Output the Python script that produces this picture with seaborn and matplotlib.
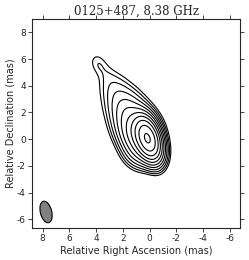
import numpy as np
import seaborn as sns
import matplotlib
matplotlib.use("Agg")
import matplotlib.pyplot as plt
from matplotlib.patches import Ellipse

# source model: gaussian components (RA mas, Dec mas, flux rel., major FWHM, minor FWHM, PA deg)
comp_ra = [0.15, 0.5, 0.7, 1.05, 1.4, 1.75, 2.1, 2.5, 2.85, 3.3, 3.85]
comp_dec = [0.05, -0.6, 0.3, 0.95, 1.6, 2.25, 2.9, 3.55, 4.2, 4.95, 5.65]
comp_flux = [1.0, 0.06, 0.1, 0.05, 0.025, 0.0125, 0.006, 0.003, 0.0016, 0.0011, 0.0016]
comp_maj = [1.8, 1.6, 1.5, 1.5, 1.5, 1.5, 1.5, 1.5, 1.5, 1.4, 1.2]
comp_min = [0.95, 1.5, 1.5, 1.6, 1.6, 1.6, 1.6, 1.5, 1.4, 1.0, 0.85]
comp_pa = [18, 29, 29, 29, 29, 29, 29, 29, 29, 29, 25]

# contour levels (fraction of peak)
levels = [0.0009, 0.0018, 0.0035, 0.007, 0.014, 0.028, 0.056, 0.11, 0.22, 0.45, 0.9]

# restoring beam
beam_ra, beam_dec = 7.75, -5.45
beam_maj, beam_min, beam_pa = 1.65, 0.85, 14

x_ticks = [8, 6, 4, 2, 0, -2, -4, -6]
y_ticks = [-6, -4, -2, 0, 2, 4, 6, 8]

sns.set_style("ticks")
plt.rcParams["axes.unicode_minus"] = False
plt.rcParams["font.family"] = ["DejaVu Sans"]

ra = np.linspace(9, -7, 500)
dec = np.linspace(-7, 9.5, 500)
RA, DEC = np.meshgrid(ra, dec)
img = np.zeros_like(RA)
for x0, y0, f, a, b, pa in zip(comp_ra, comp_dec, comp_flux, comp_maj, comp_min, comp_pa):
    t = np.radians(pa)
    dx, dy = RA - x0, DEC - y0
    u = dx * np.sin(t) + dy * np.cos(t)   # along major axis
    v = dx * np.cos(t) - dy * np.sin(t)
    sa, sb = a / 2.3548, b / 2.3548
    img += f * np.exp(-0.5 * ((u / sa) ** 2 + (v / sb) ** 2))
img /= img.max()

fig = plt.figure(figsize=(2.49, 2.60), dpi=100)
ax = fig.add_axes([0.1285, 0.123, 0.8355, 0.804])
ax.contour(RA, DEC, img, levels=levels, colors="black", linewidths=0.8)
ax.add_patch(Ellipse((beam_ra, beam_dec), width=beam_min, height=beam_maj, angle=-beam_pa,
                     facecolor="grey", edgecolor="black", lw=0.8))

ax.set_xlim(8.8, -6.75)
ax.set_ylim(-6.65, 9.0)
ax.set_xticks(x_ticks)
ax.set_yticks(y_ticks)
ax.tick_params(direction="out", length=3, width=0.6, labelsize=6.5, pad=1.5,
               top=True, right=True)
for s in ax.spines.values():
    s.set_linewidth(0.8)
ax.set_xlabel("Relative Right Ascension (mas)", fontsize=7, labelpad=2)
ax.set_ylabel("Relative Declination (mas)", fontsize=7, labelpad=1)
ax.set_title("0125+487, 8.38 GHz", fontsize=8.5, family="DejaVu Serif", pad=3)

fig.savefig("out.png", dpi=100)
